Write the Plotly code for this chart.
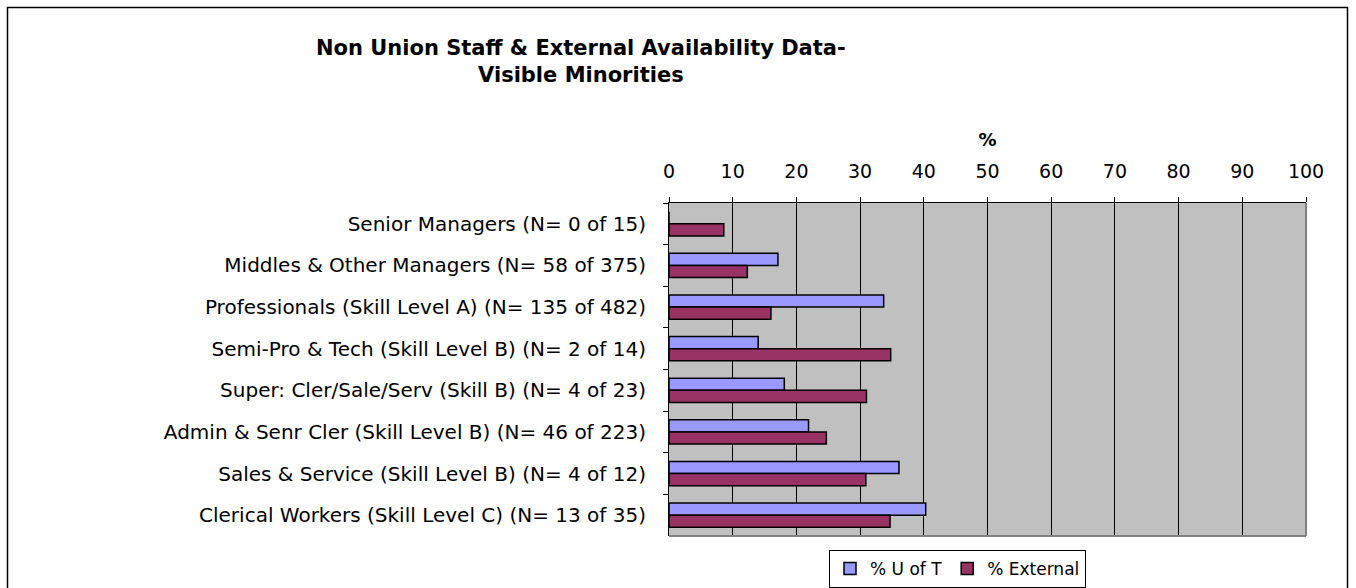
import plotly.graph_objects as go

categories = [
    "Senior Managers (N= 0 of 15)",
    "Middles & Other Managers (N= 58 of 375)",
    "Professionals (Skill Level A) (N= 135 of 482)",
    "Semi-Pro & Tech (Skill Level B) (N= 2 of 14)",
    "Super: Cler/Sale/Serv (Skill B) (N= 4 of 23)",
    "Admin & Senr Cler (Skill Level B) (N= 46 of 223)",
    "Sales & Service (Skill Level B) (N= 4 of 12)",
    "Clerical Workers (Skill Level C) (N= 13 of 35)",
]
uoft = [0, 17.1, 33.7, 14.0, 18.1, 21.9, 36.1, 40.3]
external = [8.6, 12.3, 16.0, 34.8, 31.0, 24.7, 30.9, 34.7]
x_ticks = [0, 10, 20, 30, 40, 50, 60, 70, 80, 90, 100]

W, H = 1356, 588
# plot-area edges in window pixels
L, R, T, B = 669, 1306, 203, 536
FONT = "DejaVu Sans, Arial, sans-serif"

def px(x):
    return (x - L) / (R - L)

def py(y):
    return (B - y) / (B - T)

fig = go.Figure()
fig.add_trace(go.Bar(
    y=categories, x=uoft, orientation="h", name="% U of T",
    marker=dict(color="#9999FF", line=dict(color="#000000", width=1.5)),
))
fig.add_trace(go.Bar(
    y=categories, x=external, orientation="h", name="% External",
    marker=dict(color="#993366", line=dict(color="#000000", width=1.5)),
))

fig.update_layout(
    width=W, height=H,
    margin=dict(l=L, r=W - R, t=T, b=H - B, pad=0, autoexpand=False),
    paper_bgcolor="white",
    plot_bgcolor="#C0C0C0",
    barmode="group",
    bargap=0.42,
    bargroupgap=0,
    font=dict(family=FONT, size=18, color="black"),
    showlegend=True,
    legend=dict(
        orientation="h",
        x=px(829), xanchor="left",
        y=py(550), yanchor="top",
        bordercolor="black", borderwidth=1,
        bgcolor="white",
        font=dict(family=FONT, size=17, color="black"),
        itemwidth=30,
        tracegroupgap=0,
    ),
    xaxis=dict(
        side="top",
        range=[0, 100],
        tickvals=x_ticks,
        ticktext=[str(v) for v in x_ticks],
        ticks="outside", ticklen=5, tickcolor="black",
        showgrid=True, gridcolor="black", gridwidth=1,
        zeroline=False,
        showline=True, linecolor="black", linewidth=1,
        tickfont=dict(family=FONT, size=19, color="black"),
        ticklabelstandoff=11,
        title=dict(text="<b>%</b>", font=dict(family=FONT, size=18, color="black"), standoff=9),
        fixedrange=True,
        automargin=False,
    ),
    yaxis=dict(
        type="category",
        autorange="reversed",
        ticks="outside", ticklen=5, tickcolor="black",
        tickson="boundaries",
        showline=True, linecolor="black", linewidth=1,
        showgrid=False,
        tickfont=dict(family=FONT, size=20, color="black"),
        ticklabelstandoff=18,
        fixedrange=True,
        automargin=False,
    ),
)

# plot-area border (right & bottom grey as in the original)
fig.add_shape(type="line", xref="paper", yref="paper", x0=1, x1=1, y0=0, y1=1,
              line=dict(color="#808080", width=2), layer="above")
fig.add_shape(type="line", xref="paper", yref="paper", x0=0, x1=1, y0=0, y1=0,
              line=dict(color="#808080", width=2), layer="above")

# outer chart frame
fig.add_shape(type="rect", xref="paper", yref="paper",
              x0=px(7.5), x1=px(1347.5), y0=py(600), y1=py(7.5),
              line=dict(color="black", width=1.5), fillcolor="rgba(0,0,0,0)", layer="below")

# title
fig.add_annotation(
    xref="paper", yref="paper", x=px(581), y=py(61), xanchor="center", yanchor="middle",
    text="<b>Non Union Staff & External Availability Data-<br>Visible Minorities</b>",
    showarrow=False, align="center",
    font=dict(family=FONT, size=21, color="black"),
)

fig.write_html(
    "out.html",
    config={"displayModeBar": False},
    post_script="document.body.style.margin='0';document.body.style.overflow='hidden';",
)
